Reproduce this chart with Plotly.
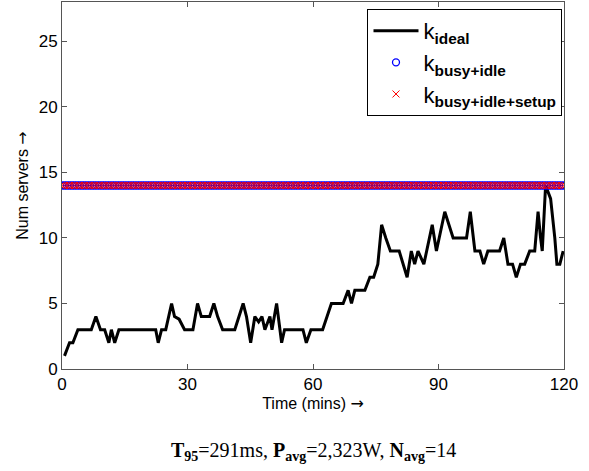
import numpy as np
import plotly.graph_objects as go

# k_ideal trace (time in mins, number of servers)
t_ideal = [0.6, 1.8, 2.6, 3.8, 7.0, 8.1, 9.2, 10.2, 11.2, 11.8, 12.6, 13.6,
           22.4, 23.0, 23.8, 24.8, 26.2, 26.9, 28.0, 29.3, 31.3, 32.4, 33.3,
           35.3, 36.3, 37.2, 38.4, 41.3, 43.3, 44.1, 45.1, 46.1, 47.0, 47.8,
           48.5, 49.7, 50.2, 51.3, 52.5, 53.2, 57.6, 58.4, 59.5, 62.3, 64.4,
           67.2, 68.4, 69.2, 70.0, 72.4, 73.6, 74.5, 75.5, 76.4, 77.4, 78.5,
           80.6, 82.5, 83.5, 84.3, 85.1, 86.5, 88.5, 89.5, 91.5, 93.5, 96.7,
           97.6, 98.7, 99.9, 100.8, 101.8, 104.6, 105.6, 106.6, 107.7, 108.6,
           109.6, 110.6, 111.8, 113.0, 113.8, 114.4, 114.8, 115.6, 116.8,
           117.8, 118.3, 119.0, 119.8]
k_ideal = [1, 2, 2, 3, 3, 4, 3, 3, 2, 3, 2, 3,
           3, 2, 3, 3, 5, 4, 3.8, 3, 3, 5, 4,
           4, 5, 4, 3, 3, 5, 4, 2, 4, 3.6, 4,
           3, 4, 3, 5, 2, 3, 3, 2, 3, 3, 5,
           5, 6, 5, 6, 6, 7, 7, 8, 11, 10, 9,
           9, 7, 9, 8, 9, 8, 11, 9, 12, 10, 10,
           12, 9, 9, 8, 9, 9, 10, 8, 8, 7,
           8, 8, 9, 9, 12, 10, 9, 14, 13,
           10, 8, 8, 9]

# provisioned servers (flat at 14 for the whole run)
t_provision = np.arange(0, 120.01, 0.6)
k_busy_idle = [14] * len(t_provision)
k_busy_idle_setup = [14] * len(t_provision)

x_ticks = [0, 30, 60, 90, 120]
y_ticks = [0, 5, 10, 15, 20, 25]

ARROW = '<span style="font-family:DejaVu Sans">→</span>'

fig = go.Figure()
fig.add_trace(go.Scatter(x=t_ideal, y=k_ideal, mode='lines',
                         line=dict(color='black', width=3),
                         name='k<sub><b>ideal</b></sub>'))
fig.add_trace(go.Scatter(x=t_provision, y=k_busy_idle, mode='markers',
                         marker=dict(symbol='circle-open', color='blue', size=7,
                                     line=dict(width=1.3)),
                         name='k<sub><b>busy+idle</b></sub>'))
fig.add_trace(go.Scatter(x=t_provision, y=k_busy_idle_setup, mode='markers',
                         marker=dict(symbol='x-thin-open', color='red', size=7,
                                     line=dict(width=1, color='red')),
                         name='k<sub><b>busy+idle+setup</b></sub>'))

axis_style = dict(showline=True, linecolor='#555', linewidth=1, mirror='ticks',
                  ticks='inside', ticklen=5, tickcolor='#555', showgrid=False,
                  zeroline=False, tickfont=dict(size=17, color='black'))

fig.update_layout(
    width=589, height=471,
    margin=dict(l=62, r=25, t=2, b=102),
    paper_bgcolor='white', plot_bgcolor='white',
    font=dict(family='Liberation Sans, Arial, sans-serif', color='black'),
    xaxis=dict(range=[0, 120], tickvals=x_ticks,
               title=dict(text='Time (mins) ' + ARROW, font=dict(size=16), standoff=2),
               **axis_style),
    yaxis=dict(range=[0, 28], tickvals=y_ticks,
               title=dict(text='Num servers ' + ARROW, font=dict(size=16), standoff=6),
               **axis_style),
    legend=dict(x=0.997, y=0.981, xanchor='right', yanchor='top',
                bgcolor='white', bordercolor='black', borderwidth=1,
                itemwidth=45, font=dict(size=22)),
    showlegend=True,
)

fig.add_annotation(
    text='<b>T</b><sub><b>95</b></sub>=291ms, <b>P</b><sub><b>avg</b></sub>=2,323W, '
         '<b>N</b><sub><b>avg</b></sub>=14',
    xref='paper', yref='paper', x=0.5, y=-0.185, xanchor='center', yanchor='top',
    showarrow=False,
    font=dict(family='Liberation Serif, Times New Roman, serif', size=20))

# drop the browser's default body margin so the figure sits at the page corner
fig.write_html("out.html", config={'displayModeBar': False},
               post_script="document.body.style.margin='0';")
